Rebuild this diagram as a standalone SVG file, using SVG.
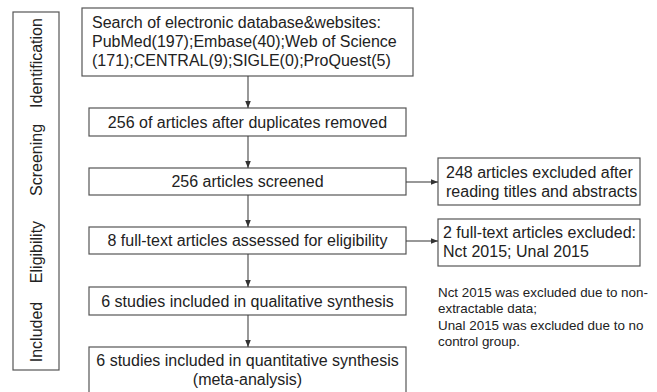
<svg xmlns="http://www.w3.org/2000/svg" width="657" height="392" viewBox="0 0 657 392">
<style>
.box{fill:#fff;stroke:#555;stroke-width:1.2}
.t{font-family:"Liberation Sans",Arial,sans-serif;font-size:16px;fill:#222}
.c{text-anchor:middle}
.n{font-family:"Liberation Sans",Arial,sans-serif;font-size:13.4px;fill:#222}
.ln{stroke:#444;stroke-width:1.1;fill:none;marker-end:url(#ah)}
</style>
<defs>
<marker id="ah" viewBox="0 0 10 10" refX="10" refY="5" markerWidth="7" markerHeight="7" orient="auto" markerUnits="userSpaceOnUse"><path d="M0,1 L10,5 L0,9 z" fill="#333"/></marker>
</defs>
<rect width="657" height="392" fill="#fff"/>
<g id="phases">
<rect class="box" x="13" y="12" width="46" height="358"/>
<text class="t c" transform="translate(42,63) rotate(-90)">Identification</text>
<text class="t c" transform="translate(42,160) rotate(-90)">Screening</text>
<text class="t c" transform="translate(42,252) rotate(-90)">Eligibility</text>
<text class="t c" transform="translate(42,332) rotate(-90)">Included</text>
</g>
<g id="search">
<rect class="box" x="82" y="8" width="331" height="68"/>
<text class="t" x="92" y="28">Search of electronic database&amp;websites:</text>
<text class="t" x="92" y="47">PubMed(197);Embase(40);Web of Science</text>
<text class="t" x="92" y="66">(171);CENTRAL(9);SIGLE(0);ProQuest(5)</text>
</g>
<g id="dedup">
<rect class="box" x="89" y="108" width="317" height="28"/>
<text class="t c" x="247.5" y="127.5">256 of articles after duplicates removed</text>
</g>
<g id="screened">
<rect class="box" x="89" y="168" width="317" height="27"/>
<text class="t c" x="247.5" y="187">256 articles screened</text>
</g>
<g id="excl1">
<rect class="box" x="438" y="158" width="202" height="47"/>
<text class="t" x="446" y="177.5">248 articles excluded after</text>
<text class="t" x="446" y="196.5">reading titles and abstracts</text>
</g>
<g id="fulltext">
<rect class="box" x="89" y="227" width="317" height="27"/>
<text class="t c" x="247.5" y="246">8 full-text articles assessed for eligibility</text>
</g>
<g id="excl2">
<rect class="box" x="438" y="219" width="202" height="47"/>
<text class="t" x="443" y="238">2 full-text articles excluded:</text>
<text class="t" x="443" y="257">Nct 2015; Unal 2015</text>
</g>
<g id="note">
<text class="n" x="438" y="297">Nct 2015 was excluded due to non-</text>
<text class="n" x="438" y="313">extractable data;</text>
<text class="n" x="438" y="330">Unal 2015 was excluded due to no</text>
<text class="n" x="438" y="346">control group.</text>
</g>
<g id="qual">
<rect class="box" x="89" y="287" width="317" height="28"/>
<text class="t c" x="247.5" y="306.5">6 studies included in qualitative synthesis</text>
</g>
<g id="quant">
<rect class="box" x="89" y="347" width="317" height="50"/>
<text class="t c" x="247.5" y="366">6 studies included in quantitative synthesis</text>
<text class="t c" x="247.5" y="385">(meta-analysis)</text>
</g>
<g id="connectors">
<line class="ln" x1="248" y1="76" x2="248" y2="108"/>
<line class="ln" x1="248" y1="136" x2="248" y2="168"/>
<line class="ln" x1="248" y1="195" x2="248" y2="227"/>
<line class="ln" x1="248" y1="254" x2="248" y2="287"/>
<line class="ln" x1="248" y1="315" x2="248" y2="347"/>
<line class="ln" x1="406" y1="182" x2="438" y2="182"/>
<line class="ln" x1="406" y1="241" x2="438" y2="241"/>
</g>
</svg>
